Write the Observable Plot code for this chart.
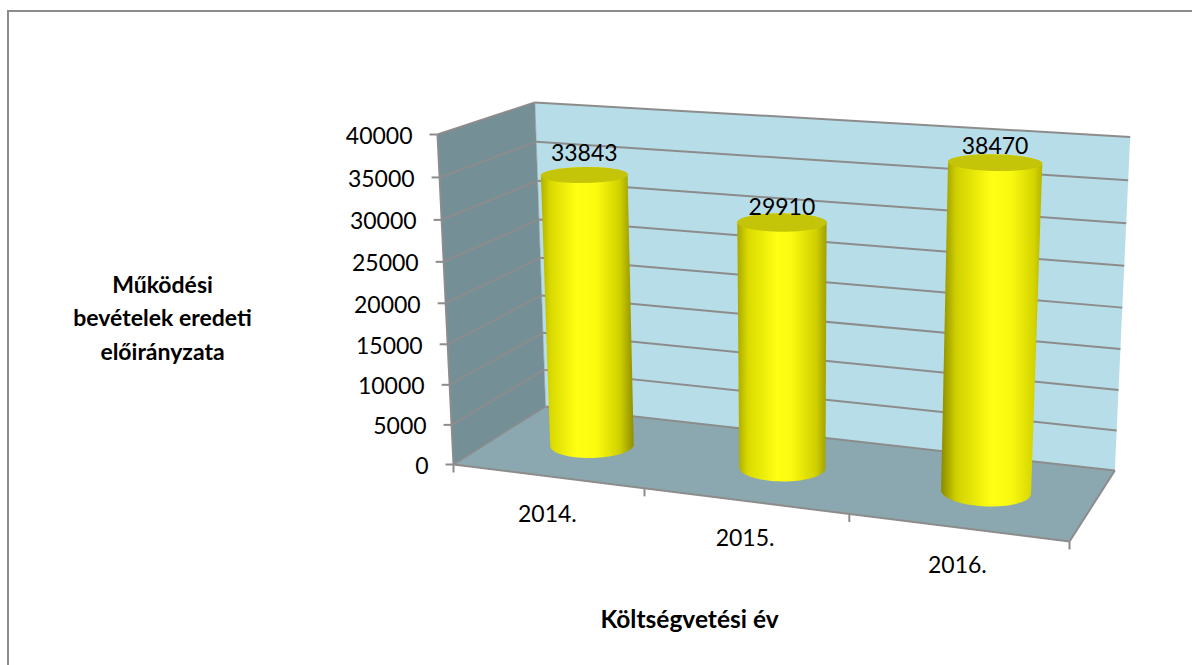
<!DOCTYPE html>
<html><head><meta charset="utf-8">
<script src="https://cdn.jsdelivr.net/npm/d3@7"></script>
<script src="https://cdn.jsdelivr.net/npm/@observablehq/plot@0.6"></script>
<style>
html,body{margin:0;padding:0;background:#fff;overflow:hidden}
#wrap{position:relative;width:1192px;height:665px}
#border{position:absolute;left:7px;top:10px;width:1300px;height:800px;border:2px solid #8c8c8c;box-sizing:border-box}
svg{position:absolute;left:0;top:0}
</style></head><body>
<div id="wrap"><div id="border"></div></div>
<script>
const categories = ["2014.", "2015.", "2016."];
const values = [33843, 29910, 38470];
const yTicks = [0, 5000, 10000, 15000, 20000, 25000, 30000, 35000, 40000];
const yMax = 40000;
const xTitle = "Költségvetési év";
const yTitle = "Működési\nbevételek eredeti\nelőirányzata";

const W = 1192, H = 665, FONT = "Lato, 'Open Sans', sans-serif";

// perspective box: screen images of the box corners + vanishing terms
const O = [453, 464], R = [1069, 541], T = [437, 134], B = [545, 406];
const a = -0.1012, b = -0.045, c = 0.09;
const col = (P, k) => [P[0] * (1 + k) - O[0], P[1] * (1 + k) - O[1], k];
const U = col(R, a), V = col(T, b), D = col(B, c);
function project(u, v, d) {
  const s = 1 + a * u + b * v + c * d;
  return [(O[0] + U[0] * u + V[0] * v + D[0] * d) / s,
          (O[1] + U[1] * u + V[1] * v + D[1] * d) / s];
}
const pv = (u, val, d) => project(u, val / yMax, d);
const n = categories.length;

const poly = (pts, fill) => Plot.line([...pts, pts[0]], {x: p => p[0], y: p => p[1], fill, stroke: "none"});
const seg = (pairs, opts) => Plot.link(pairs, {
  x1: p => p[0][0], y1: p => p[0][1], x2: p => p[1][0], y2: p => p[1][1],
  stroke: "#8c8c8c", strokeWidth: 2, ...opts
});

const ru = 0.069, rd = 0.2;
const angles = d3.range(0, 72).map(i => i / 72 * 2 * Math.PI);
const circle = (i, val) => angles.map(t => pv((i + .5) / n + ru * Math.cos(t), val, .5 + rd * Math.sin(t)));
const labelLift = [21, 15, 16];

function gradients() {
  const defs = d3.create("svg:defs");
  const stops = [
    [[0,"#b0b000"],[.1,"#d8d800"],[.38,"#ffff14"],[.6,"#fbfb10"],[.85,"#d0d000"],[1,"#8f8f00"]],
    [[0,"#a8a800"],[.12,"#dada00"],[.45,"#ffff14"],[.6,"#fbfb10"],[.88,"#d0d000"],[1,"#a0a000"]],
    [[0,"#8a8a00"],[.15,"#d0d000"],[.5,"#ffff14"],[.7,"#f8f810"],[.92,"#d4d400"],[1,"#b4b400"]]
  ];
  stops.forEach((st, i) => {
    const g = defs.append("linearGradient").attr("id", "cyl" + i);
    st.forEach(([o, col]) => g.append("stop").attr("offset", o).attr("stop-color", col));
  });
  return defs.node();
}

const cylinders = values.flatMap((val, i) => {
  const bottom = circle(i, 0), top = circle(i, val);
  return [poly(d3.polygonHull([...bottom, ...top]), `url(#cyl${i})`), poly(top, "#c4c409")];
});

const chart = Plot.plot({
  width: W, height: H, margin: 0,
  x: {domain: [0, W], range: [0, W], axis: null},
  y: {domain: [0, H], range: [0, H], axis: null},
  style: {background: "transparent", fontFamily: FONT},
  marks: [
    gradients,
    poly([pv(0,0,0), pv(0,yMax,0), pv(0,yMax,1), pv(0,0,1)], "#758f97"),
    poly([pv(0,0,1), pv(0,yMax,1), pv(1,yMax,1), pv(1,0,1)], "#b7dee8"),
    poly([pv(0,0,0), pv(0,0,1), pv(1,0,1), pv(1,0,0)], "#8ba8b0"),
    seg(yTicks.map(t => [pv(0,t,1), pv(1,t,1)])),
    seg(yTicks.slice(1).map(t => [pv(0,t,0), pv(0,t,1)])),
    seg([[pv(0,0,0), pv(0,0,1)]], {strokeWidth: 1.5}),
    seg([[pv(0,0,1), pv(0,yMax,1)]], {strokeWidth: 1, strokeOpacity: .6}),
    seg([[pv(1,0,1), pv(1,0,0)], [pv(1,0,0), pv(0,0,0)], [pv(0,0,0), pv(0,yMax,0)]]),
    seg(yTicks.map(t => { const p = pv(0,t,0); return [p, [p[0]-8, p[1]]]; })),
    seg(d3.range(n + 1).map(i => { const p = pv(i/n,0,0); return [p, [p[0], p[1]+8]]; })),
    ...cylinders,
    Plot.text(yTicks, {x: t => pv(0,t,0)[0], y: t => pv(0,t,0)[1], text: t => String(t),
      textAnchor: "end", dx: -25, dy: 2, fontSize: 23, fill: "#000"}),
    Plot.text(categories, {x: (_, i) => pv((i+.5)/n,0,0)[0], y: (_, i) => pv((i+.5)/n,0,0)[1],
      text: d => d, dy: 38, fontSize: 23, fill: "#000"}),
    Plot.text(values, {x: (_, i) => pv((i+.5)/n,values[i],.5)[0], y: (_, i) => pv((i+.5)/n,values[i],.5)[1] - labelLift[i],
      text: d => String(d), fontSize: 23, fill: "#000"}),
    Plot.text([xTitle], {frameAnchor: "top-left", dx: 689, dy: 620, textAnchor: "middle", lineAnchor: "middle", fontSize: 24.5, fontWeight: 700, fill: "#000"}),
    Plot.text([yTitle], {frameAnchor: "top-left", dx: 162, dy: 315, textAnchor: "middle", lineAnchor: "middle", lineHeight: 1.45, fontSize: 23, fontWeight: 700, fill: "#000"})
  ]
});
document.getElementById("wrap").appendChild(chart);
</script></body></html>
